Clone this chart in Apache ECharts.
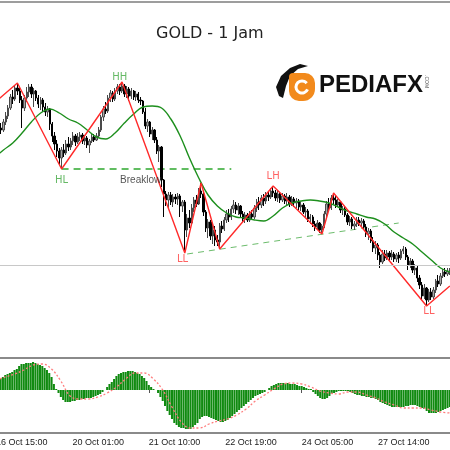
<!DOCTYPE html>
<html>
<head>
<meta charset="utf-8">
<script src="https://cdn.jsdelivr.net/npm/echarts@6/dist/echarts.min.js"></script>
<style>html,body{margin:0;padding:0;background:#fff;overflow:hidden;width:450px;height:450px}#c{width:458px;height:450px;margin-left:-7px}</style>
</head>
<body>
<div id="c"></div>
<script>
// Hourly bars: [open, close, low, high]
const bars = [
[1246.6,1246.9,1246.3,1247.3],[1246.9,1246.5,1246.2,1247.2],[1246.5,1247.2,1246.3,1247.5],[1247.2,1247.0,1246.6,1247.7],[1247.0,1247.8,1246.8,1248.1],
[1247.8,1248.4,1247.5,1248.8],[1248.4,1249.2,1248.1,1249.5],[1249.2,1250.3,1249.0,1250.6],[1250.3,1250.1,1249.6,1251.0],[1250.1,1251.2,1249.9,1251.4],
[1251.2,1250.9,1250.5,1251.7],[1250.9,1250.0,1249.7,1251.3],[1250.0,1249.2,1247.2,1250.4],[1249.2,1250.2,1248.9,1250.5],[1250.2,1250.8,1249.8,1251.3],
[1250.8,1251.3,1250.3,1251.6],[1251.3,1250.6,1250.2,1251.6],[1250.6,1250.9,1249.3,1251.2],[1250.9,1250.2,1249.9,1251.0],[1250.2,1249.6,1249.2,1250.5],
[1249.6,1250.0,1249.0,1250.3],[1250.0,1249.3,1248.8,1250.2],[1249.3,1248.8,1248.4,1249.7],[1248.8,1249.1,1248.3,1249.4],[1249.1,1247.6,1247.0,1249.2],
[1247.6,1246.4,1245.8,1247.8],[1246.4,1245.6,1245.0,1246.8],[1245.6,1244.9,1244.3,1246.0],[1244.9,1244.2,1243.5,1245.2],[1244.2,1245.0,1243.1,1245.3],
[1245.0,1244.7,1244.3,1245.6],[1244.7,1245.6,1244.5,1246.0],[1245.6,1245.3,1244.9,1246.3],[1245.3,1245.9,1245.0,1246.2],[1245.9,1246.4,1245.5,1246.8],
[1246.4,1245.8,1245.4,1246.6],[1245.8,1246.3,1245.6,1246.7],[1246.3,1246.5,1245.9,1246.8],[1246.5,1245.9,1245.6,1246.7],[1245.9,1246.2,1245.5,1246.5],
[1246.2,1245.5,1245.2,1246.4],[1245.5,1245.9,1244.7,1246.1],[1245.9,1246.3,1245.7,1246.6],[1246.3,1246.0,1245.8,1246.6],[1246.0,1246.4,1245.9,1246.7],
[1246.4,1247.0,1246.2,1247.3],[1247.0,1248.3,1246.8,1248.5],[1248.3,1249.1,1247.9,1249.4],[1249.1,1248.9,1248.6,1249.8],[1248.9,1250.2,1248.7,1250.5],
[1250.2,1250.7,1249.8,1251.0],[1250.7,1250.1,1249.8,1250.9],[1250.1,1250.9,1249.9,1251.2],[1250.9,1251.3,1250.6,1251.6],[1251.3,1250.9,1250.5,1251.6],
[1250.9,1251.4,1250.7,1251.8],[1251.4,1250.6,1250.3,1251.6],[1250.6,1251.1,1250.2,1251.4],[1251.1,1250.4,1249.9,1251.3],[1250.4,1250.9,1250.1,1251.2],
[1250.9,1250.3,1250.0,1251.0],[1250.3,1250.6,1249.9,1250.9],[1250.6,1250.0,1249.7,1250.8],[1250.0,1249.9,1249.5,1250.3],[1249.9,1248.8,1248.6,1250.0],
[1248.8,1247.4,1247.1,1249.2],[1247.4,1247.8,1246.8,1248.1],[1247.8,1246.6,1246.3,1247.9],[1246.6,1247.0,1246.0,1247.3],[1247.0,1246.0,1245.7,1247.1],
[1246.0,1244.9,1244.6,1246.3],[1244.9,1245.3,1243.8,1245.5],[1245.3,1242.0,1241.3,1245.4],[1242.0,1240.6,1238.3,1242.1],[1240.6,1240.0,1239.4,1240.9],
[1240.0,1240.5,1239.2,1240.8],[1240.5,1239.8,1239.5,1240.8],[1239.8,1240.3,1239.3,1240.6],[1240.3,1240.1,1239.6,1240.6],[1240.1,1240.4,1239.5,1240.7],
[1240.4,1239.4,1238.3,1240.6],[1239.4,1239.8,1238.8,1240.0],[1239.8,1237.0,1234.7,1240.0],[1237.0,1238.2,1236.3,1238.6],[1238.2,1237.7,1237.2,1239.0],
[1237.7,1239.2,1237.5,1239.6],[1239.2,1240.0,1238.8,1240.3],[1240.0,1239.6,1239.3,1240.5],[1239.6,1240.9,1239.5,1241.2],[1240.9,1240.6,1240.2,1241.7],
[1240.6,1238.8,1238.4,1240.8],[1238.8,1237.2,1236.8,1239.0],[1237.2,1237.8,1236.2,1238.1],[1237.8,1236.4,1236.0,1238.0],[1236.4,1237.0,1235.6,1237.6],
[1237.0,1236.0,1235.4,1237.4],[1236.0,1235.8,1235.4,1236.5],[1235.8,1237.4,1235.1,1237.7],[1237.4,1237.1,1236.7,1237.9],[1237.1,1238.0,1236.9,1238.3],
[1238.0,1238.6,1237.7,1239.0],[1238.6,1238.3,1237.8,1239.1],[1238.3,1239.1,1238.0,1239.4],[1239.1,1239.5,1238.7,1240.0],[1239.5,1239.0,1238.6,1239.8],
[1239.0,1239.4,1238.5,1239.7],[1239.4,1238.6,1238.2,1239.5],[1238.6,1238.1,1237.8,1238.9],[1238.1,1238.5,1237.7,1238.8],[1238.5,1238.0,1237.8,1238.7],
[1238.0,1238.6,1237.8,1238.9],[1238.6,1238.3,1238.0,1239.0],[1238.3,1239.2,1238.1,1239.5],[1239.2,1239.8,1238.8,1240.1],[1239.8,1239.5,1239.0,1240.3],
[1239.5,1240.2,1239.2,1240.5],[1240.2,1239.9,1239.4,1240.6],[1239.9,1240.5,1239.6,1240.8],[1240.5,1240.3,1239.9,1240.9],[1240.3,1240.9,1240.1,1241.2],
[1240.9,1240.7,1240.3,1241.4],[1240.7,1240.2,1239.9,1241.0],[1240.2,1240.6,1239.8,1240.9],[1240.6,1240.0,1239.7,1240.8],[1240.0,1240.4,1239.8,1240.7],
[1240.4,1239.9,1239.6,1240.6],[1239.9,1240.3,1239.5,1240.7],[1240.3,1239.6,1239.3,1240.5],[1239.6,1240.1,1239.4,1240.4],[1240.1,1239.7,1239.3,1240.3],
[1239.7,1239.9,1239.2,1240.2],[1239.9,1239.3,1239.0,1240.1],[1239.3,1239.5,1238.9,1239.8],[1239.5,1238.8,1238.6,1239.7],[1238.8,1238.9,1238.3,1239.3],
[1238.9,1238.1,1237.8,1239.1],[1238.1,1238.3,1237.6,1238.6],[1238.3,1237.6,1237.3,1238.5],[1237.6,1237.3,1236.9,1237.9],[1237.3,1237.7,1237.0,1238.0],
[1237.7,1237.0,1236.7,1237.8],[1237.0,1237.4,1236.6,1237.6],[1237.4,1238.6,1237.2,1238.9],[1238.6,1239.6,1238.3,1239.9],[1239.6,1239.2,1238.9,1240.2],
[1239.2,1240.2,1239.0,1240.5],[1240.2,1240.0,1239.6,1240.7],[1240.0,1239.5,1239.2,1240.5],[1239.5,1239.8,1239.3,1240.1],[1239.8,1239.0,1238.7,1239.9],
[1239.0,1239.1,1238.5,1239.4],[1239.1,1238.5,1238.3,1239.3],[1238.5,1237.8,1237.5,1238.7],[1237.8,1238.1,1237.4,1238.4],[1238.1,1237.4,1237.1,1238.3],
[1237.4,1237.6,1237.0,1237.9],[1237.6,1238.0,1237.3,1238.3],[1238.0,1237.7,1237.4,1238.3],[1237.7,1237.9,1237.3,1238.2],[1237.9,1237.3,1237.0,1238.1],
[1237.3,1236.6,1236.3,1237.6],[1236.6,1236.9,1236.0,1237.2],[1236.9,1235.9,1235.7,1237.1],[1235.9,1235.2,1234.8,1236.3],[1235.2,1235.5,1234.6,1235.9],
[1235.5,1234.5,1234.0,1235.7],[1234.5,1233.8,1233.2,1234.8],[1233.8,1234.6,1233.6,1235.0],[1234.6,1234.2,1233.9,1235.0],[1234.2,1234.7,1234.0,1235.0],
[1234.7,1234.3,1233.9,1234.9],[1234.3,1234.6,1234.0,1235.0],[1234.6,1234.1,1233.8,1234.8],[1234.1,1234.5,1233.8,1234.7],[1234.5,1234.2,1233.7,1234.8],
[1234.2,1234.9,1234.0,1235.1],[1234.9,1235.1,1234.6,1235.4],[1235.1,1234.3,1234.0,1235.3],[1234.3,1233.5,1233.0,1234.5],[1233.5,1233.9,1233.2,1234.2],
[1233.9,1233.0,1232.7,1234.1],[1233.0,1233.2,1232.5,1233.6],[1233.2,1232.2,1231.8,1233.4],[1232.2,1231.5,1231.1,1232.5],[1231.5,1230.4,1230.0,1231.8],
[1230.4,1231.2,1230.1,1231.6],[1231.2,1230.0,1229.4,1231.3],[1230.0,1230.8,1229.8,1231.1],[1230.8,1230.3,1230.0,1231.2],[1230.3,1231.0,1230.1,1231.3],
[1231.0,1231.9,1230.7,1232.1],[1231.9,1231.6,1231.3,1232.5],[1231.6,1232.4,1231.4,1232.7],[1232.4,1232.8,1232.2,1233.1],[1232.8,1232.6,1232.3,1233.2],
[1232.6,1232.9,1232.4,1233.2],[1232.9,1233.0,1232.5,1233.2]
];

// Moving average (read at every 4th bar)
const maBars = [0,4,8,12,16,20,24,28,32,36,40,44,48,52,56,60,64,68,72,76,80,84,88,92,96,100,104,108,112,116,120,124,128,132,136,140,144,148,152,156,160,164,168,172,176,180,184,188,192,196];
const maValues = [1244.2,1245.0,1245.7,1246.7,1247.8,1248.7,1249.1,1248.7,1248.1,1247.7,
1247.0,1246.3,1246.1,1246.7,1247.7,1248.6,1249.3,1249.4,1249.2,1248.1,
1246.4,1244.2,1242.2,1240.5,1239.4,1238.7,1238.3,1238.2,1238.0,1237.9,
1238.4,1239.2,1239.7,1239.9,1240.0,1239.9,1239.7,1239.3,1238.9,1238.6,
1238.3,1238.1,1237.6,1236.8,1236.2,1235.6,1234.8,1234.0,1233.2,1232.8];

// ZigZag pivots
const zigBars = [0,10,29,55,82,89,97,120,141,146,186,196];
const zigValues = [1249.7,1251.7,1243.1,1251.8,1234.7,1241.7,1235.1,1241.4,1236.6,1240.7,1229.4,1231.4];

// Swing labels
const noteText = ['HL','HH','Breaklow','LL','LH','LL'];
const noteBars = [29,54,63,81,120,187];
const noteValues = [1242.0,1252.25,1241.95,1234.05,1242.4,1228.85];

// Reference levels
const breakBars = [29, 102];
const breakValues = [1243.1, 1243.1];
const trendBars = [83, 174];
const trendValues = [1234.6, 1237.7];
const priceLine = 1233.45;

// MACD histogram (per bar) and signal (every 4th bar)
const macdHist = [
1.1,1.2,1.2,1.3,1.5,1.6,1.7,1.8,2.0,2.1,
2.4,2.6,2.6,2.7,2.7,2.7,2.8,2.7,2.6,2.5,
2.4,2.2,2.0,1.7,1.3,0.6,0.1,-0.3,-0.7,-1.0,
-1.2,-1.2,-1.2,-1.1,-1.1,-1.0,-1.0,-0.9,-0.9,-0.8,
-0.8,-0.8,-0.7,-0.6,-0.5,-0.4,-0.2,0.0,0.3,0.6,
0.8,1.1,1.4,1.6,1.7,1.8,1.8,1.9,1.9,1.9,
1.8,1.7,1.6,1.4,1.2,0.9,0.5,0.3,0.1,0.0,
-0.3,-0.7,-1.1,-1.6,-2.1,-2.5,-2.9,-3.3,-3.5,-3.7,
-3.8,-3.8,-3.9,-3.9,-3.9,-3.7,-3.5,-3.3,-2.9,-2.7,
-2.6,-2.6,-2.7,-2.8,-2.9,-3.0,-3.1,-3.2,-3.2,-3.1,
-3.0,-2.8,-2.6,-2.4,-2.2,-2.0,-1.8,-1.6,-1.4,-1.2,
-1.0,-0.8,-0.6,-0.5,-0.4,-0.3,-0.2,0.0,0.2,0.4,
0.5,0.6,0.7,0.7,0.7,0.7,0.7,0.6,0.6,0.6,
0.5,0.4,0.4,0.3,0.2,0.1,0.1,-0.2,-0.4,-0.6,
-0.8,-0.9,-0.9,-0.8,-0.6,-0.4,-0.3,-0.2,-0.1,-0.1,
-0.1,-0.1,-0.1,-0.2,-0.3,-0.4,-0.5,-0.5,-0.6,-0.6,
-0.7,-0.7,-0.8,-0.8,-0.9,-1.0,-1.2,-1.3,-1.4,-1.5,
-1.6,-1.7,-1.7,-1.7,-1.7,-1.7,-1.7,-1.6,-1.6,-1.5,
-1.5,-1.5,-1.6,-1.7,-1.8,-1.9,-2.1,-2.3,-2.3,-2.3,
-2.3,-2.2,-2.1,-2.0,-1.9,-1.8,-1.7];
const signalBars = maBars;
const signalValues = [1.0,1.3,1.6,2.0,2.5,2.6,2.1,0.9,-0.6,-0.9,
-0.9,-0.7,-0.3,0.3,1.1,1.7,1.7,1.1,0.0,-1.7,
-3.2,-3.8,-3.8,-3.4,-3.1,-2.9,-2.5,-1.9,-1.1,-0.5,
0.1,0.6,0.7,0.6,0.3,-0.1,-0.3,-0.4,-0.2,-0.2,
-0.5,-0.8,-1.2,-1.5,-1.8,-1.8,-1.8,-2.0,-2.2,-2.3];

// Time axis labels
const timeLabels = ['16 Oct 15:00','20 Oct 01:00','21 Oct 10:00','22 Oct 19:00','24 Oct 05:00','27 Oct 14:00'];
const labelBars = [0,33,66,99,132,165];

const categories = bars.map((b, i) => String(i));
const pair = (xs, ys) => xs.map((x, k) => [x, ys[k]]);
const noteColor = t => t === 'Breaklow' ? '#2a2a2a' : (t[0] === 'H' ? '#3fa83f' : '#ff3b3b');
const showLabel = idx => labelBars.indexOf(idx) >= 0;

// container is shifted 7px left of the page, so page x = container x - 7
const OX = 7;
const chart = echarts.init(document.getElementById('c'), null, {renderer: 'canvas'});
chart.setOption({
  animation: false,
  backgroundColor: '#ffffff',
  title: {
    text: 'GOLD - 1 Jam', left: 151 + OX, top: 21,
    textStyle: {fontFamily: 'DejaVu Sans', fontSize: 16, fontWeight: 'normal', color: '#222'}
  },
  grid: [
    {left: 0, right: 0, top: 2, height: 356},
    {left: 0, right: 0, top: 358, height: 75, show: true, borderColor: '#8a8a8a', borderWidth: 2}
  ],
  xAxis: [
    {type: 'category', gridIndex: 0, data: categories, position: 'top',
     axisLine: {show: true, lineStyle: {color: '#7d7d7d', width: 1.5}},
     axisTick: {show: false}, axisLabel: {show: false}, splitLine: {show: false}},
    {type: 'category', gridIndex: 1, data: categories, position: 'bottom',
     axisLine: {show: false},
     axisTick: {show: true, alignWithLabel: true, interval: showLabel, length: 3, lineStyle: {color: '#555'}},
     axisLabel: {show: true, interval: showLabel, align: 'left', margin: 5, showMinLabel: true,
       fontFamily: 'Liberation Sans', fontSize: 9, color: '#222',
       formatter: v => timeLabels[labelBars.indexOf(Number(v))]},
     splitLine: {show: false}}
  ],
  yAxis: [
    {type: 'value', gridIndex: 0, min: 1224.2, max: 1259.8, show: false, splitLine: {show: false}},
    {type: 'value', gridIndex: 1, min: -4.3, max: 3.2, show: false, splitLine: {show: false}}
  ],
  series: [
    {type: 'candlestick', xAxisIndex: 0, yAxisIndex: 0, data: bars, barWidth: 1.8,
     itemStyle: {color: '#a8a8a8', color0: '#000000', borderColor: '#4a4a4a', borderColor0: '#000000', borderWidth: 1},
     markLine: {silent: true, symbol: 'none', label: {show: false},
       data: [{yAxis: priceLine, lineStyle: {color: '#c8c8c8', type: 'solid', width: 1}}]}
    },
    {type: 'line', name: 'Breaklow', xAxisIndex: 0, yAxisIndex: 0, data: pair(breakBars, breakValues),
     showSymbol: false, silent: true, lineStyle: {color: '#2ea82e', type: [7, 5], width: 1.3}, z: 2},
    {type: 'line', name: 'Trend', xAxisIndex: 0, yAxisIndex: 0, data: pair(trendBars, trendValues),
     showSymbol: false, silent: true, lineStyle: {color: '#6cbc6c', type: [6, 5], width: 1}, z: 2},
    {type: 'line', name: 'MA', xAxisIndex: 0, yAxisIndex: 0, data: pair(maBars, maValues),
     smooth: 0.4, showSymbol: false, lineStyle: {color: '#1d8f1d', width: 1.4}, z: 3},
    {type: 'line', name: 'ZigZag', xAxisIndex: 0, yAxisIndex: 0, data: pair(zigBars, zigValues),
     showSymbol: false, lineStyle: {color: '#ff2a2a', width: 1.4}, z: 4},
    {type: 'scatter', xAxisIndex: 0, yAxisIndex: 0, symbolSize: 1, itemStyle: {color: 'rgba(0,0,0,0)'},
     data: noteText.map((t, k) => ({
       value: [noteBars[k], noteValues[k]],
       label: {show: true, position: 'inside', formatter: t,
         fontFamily: t === 'Breaklow' ? 'Liberation Sans' : 'DejaVu Sans',
         fontSize: 10, color: noteColor(t)}
     })), z: 5},
    {type: 'bar', xAxisIndex: 1, yAxisIndex: 1, data: macdHist, barCategoryGap: '12%',
     itemStyle: {color: '#108a10'}},
    {type: 'line', xAxisIndex: 1, yAxisIndex: 1, data: pair(signalBars, signalValues), smooth: 0.4,
     showSymbol: false, lineStyle: {color: '#ff7d7d', width: 1.3, type: [2, 2]}, z: 4}
  ],
  graphic: [
    {type: 'polygon', shape: {points: [[276+OX,87],[281+OX,76],[290+OX,68],[300+OX,64],[308+OX,66],[298+OX,69],[290+OX,76],[286+OX,86],[283+OX,98],[279+OX,96]]},
     style: {fill: '#111111'}},
    {type: 'rect', shape: {x: 289+OX, y: 73, width: 26, height: 28, r: [4, 10, 12, 10]}, style: {fill: '#f28a1c'}},
    {type: 'arc', shape: {cx: 302+OX, cy: 87, r: 6, startAngle: 0.4, endAngle: 5.6}, style: {stroke: '#ffffff', lineWidth: 3, fill: null}},
    {type: 'text', left: 319+OX, top: 73, style: {text: 'PEDIAFX', font: 'bold 24px "Liberation Sans"', fill: '#111111'}},
    {type: 'text', x: 429+OX, y: 75, rotation: -Math.PI / 2, style: {text: '.COM', font: '5px "Liberation Sans"', fill: '#555555'}}
  ]
});
</script>
</body>
</html>
